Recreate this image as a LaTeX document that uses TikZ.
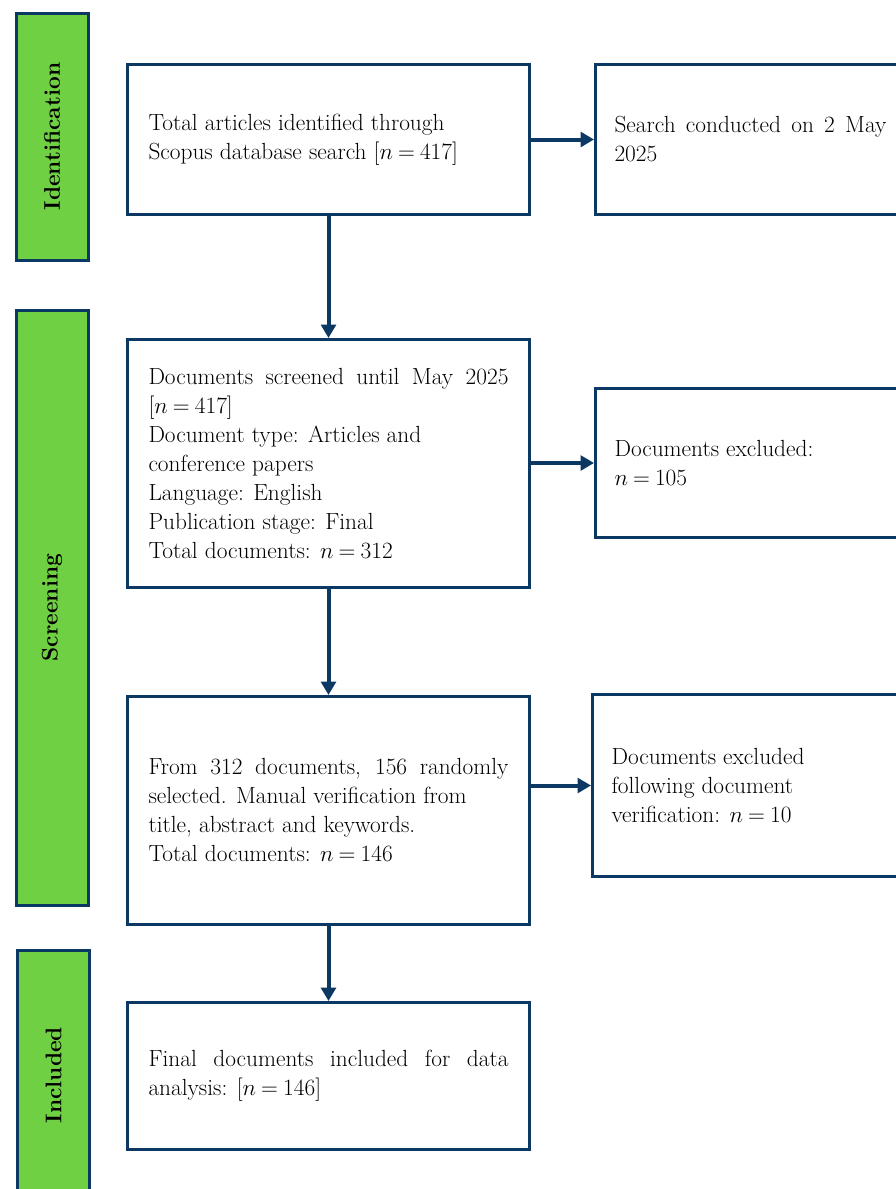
\documentclass[tikz,border=0pt]{standalone}
\usepackage{amsmath}
\usepackage{amssymb}
\usepackage{tikz}
\usetikzlibrary{arrows.meta}
\usepackage{xcolor}
\definecolor{navy}{RGB}{12,56,100}
\definecolor{leaf}{RGB}{112,208,68}
\newcommand{\nval}[1]{$n$\hspace{0.22em}=\hspace{0.22em}#1}

\begin{document}
\begin{tikzpicture}[x=0.75pt,y=-0.75pt,
	  box/.style={draw=navy,line width=2.25pt,fill=white,rectangle,anchor=north west,
	    inner xsep=15.75pt,inner ysep=0pt,text width=270pt,align=justify,
	    font=\fontsize{17.5}{21.75}\selectfont},
	  side/.style={box,inner xsep=14.25pt,text width=204pt},
	  bar/.style={draw=navy,line width=2.25pt,fill=leaf,rectangle,rotate=90,
	    minimum height=54pt,font=\fontsize{17}{20}\selectfont\bfseries},
	  arr/.style={draw=navy,line width=3pt,-{Triangle[length=10pt,width=11pt]}}]
	  \useasboundingbox (0,0) rectangle (896,1189);
	  \clip (0,0) rectangle (896,1189);
	  \node[bar,minimum width=185.25pt] (idbar) at (52,136.5) {Identification};
	  \node[bar,minimum width=446.25pt] (scbar) at (52,607.5) {Screening};
	  \node[bar,minimum width=187.5pt] (inbar) at (53.5,1075) {Included};
	  \node[box,minimum height=112.5pt] (ident) at (126,63)
	    {Total articles identified through\\Scopus database search {[}\nval{417}{]}};
	  \node[side,minimum height=112.5pt] (date) at (594,63)
	    {Search conducted on 2 May\linebreak 2025};
	  \node[box,minimum height=186pt] (screen) at (126,338)
	    {Documents screened until May 2025\linebreak {[}\nval{417}{]}\\Document type: Articles and\\conference papers\\Language: English\\Publication stage: Final\\Total documents: \nval{312}};
	  \node[side,minimum height=111.75pt] (excl1) at (594,387)
	    {Documents excluded:\\\nval{105}};
	  \node[box,minimum height=171pt] (verif) at (126,695)
	    {From 312 documents, 156 randomly\linebreak selected. Manual verification from\\title, abstract and keywords.\\Total documents: \nval{146}};
	  \node[side,minimum height=136.5pt] (excl2) at (591,693)
	    {Documents excluded\\following document\\verification: \nval{10}};
	  \node[box,minimum height=110.25pt] (final) at (126,1001)
	    {Final documents included for data\linebreak analysis: {[}\nval{146}{]}};
	  \foreach \a/\b in {ident/screen,screen/verif,verif/final} {
	    \draw[arr] (\a.south) -- (\b.north);
	  };
	  \foreach \a/\b in {ident/date,screen/excl1,verif/excl2} {
	    \draw[arr] (\b.west -| \a.east) -- (\b.west);
	  };
\end{tikzpicture}
\end{document}
